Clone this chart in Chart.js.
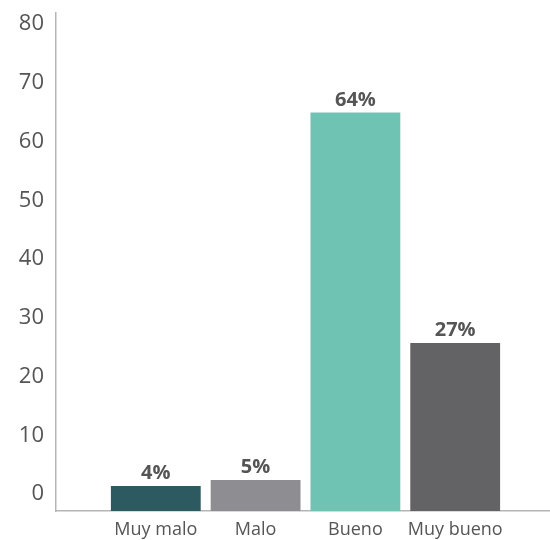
<!DOCTYPE html>
<html>
<head>
<meta charset="utf-8">
<script src="https://cdn.jsdelivr.net/npm/chart.js@4/dist/chart.umd.min.js"></script>
<style>
  html, body { margin: 0; padding: 0; background: #ffffff; }
  #wrap { width: 550px; height: 540px; }
</style>
</head>
<body>
<div id="wrap"><canvas id="ratingChart" width="550" height="540"></canvas></div>
<script>
const categories = ["Muy malo", "Malo", "Bueno", "Muy bueno"];
const values = [4, 5, 64, 27];
const valueLabels = ["4%", "5%", "64%", "27%"];
const barColors = ["#2c5a60", "#8e8e92", "#6fc3b2", "#636365"];
const yTicks = [0, 10, 20, 30, 40, 50, 60, 70, 80];

const textColor = "#555555";
const axisColor = "#b5b5b5";
const fontFamily = "'Open Sans', sans-serif";

/* percent labels above each bar */
const barLabels = {
  id: "barLabels",
  afterDatasetsDraw(chart) {
    const ctx = chart.ctx;
    const meta = chart.getDatasetMeta(0);
    ctx.save();
    ctx.fillStyle = textColor;
    ctx.font = "bold 20px " + fontFamily;
    ctx.textAlign = "center";
    ctx.textBaseline = "alphabetic";
    meta.data.forEach((bar, i) => {
      ctx.fillText(valueLabels[i], bar.x, bar.y - 7);
    });
    ctx.restore();
  }
};

new Chart(document.getElementById("ratingChart"), {
  type: "bar",
  data: {
    datasets: [
      {
        data: values.map((v, i) => ({ x: i + 1, y: v })),
        backgroundColor: barColors,
        borderWidth: 0,
        barPercentage: 0.9,
        categoryPercentage: 1.0,
        yAxisID: "y"
      }
    ]
  },
  options: {
    responsive: false,
    animation: false,
    layout: { padding: { top: 13, right: 0, bottom: 0, left: 0 } },
    plugins: {
      legend: { display: false },
      tooltip: { enabled: false }
    },
    scales: {
      x: {
        type: "linear",
        min: 0,
        max: 4.95,
        offset: false,
        grid: { display: false, drawTicks: false, offset: false },
        border: { color: axisColor, width: 1.5 },
        afterBuildTicks: (scale) => {
          scale.ticks = categories.map((_, i) => ({ value: i + 1 }));
        },
        afterFit: (scale) => {
          scale.height = 29;
          scale.paddingLeft = 0;
          scale.paddingRight = 0;
        },
        ticks: {
          color: textColor,
          font: { family: fontFamily, size: 18 },
          padding: 8,
          autoSkip: false,
          maxRotation: 0,
          callback: (v) => categories[v - 1] || ""
        }
      },
      y: {
        display: false,
        min: 0,
        max: 80
      },
      yl: {
        position: "left",
        min: -2.894,
        max: 81.87,
        grid: { display: false, drawTicks: false },
        border: { color: axisColor, width: 1.5 },
        afterBuildTicks: (scale) => {
          scale.ticks = yTicks.map((v) => ({ value: v }));
        },
        afterFit: (scale) => {
          scale.width = 56;
          scale.paddingTop = 0;
          scale.paddingBottom = 0;
        },
        ticks: {
          color: textColor,
          font: { family: fontFamily, size: 22 },
          padding: 12
        }
      }
    }
  },
  plugins: [barLabels]
});
</script>
</body>
</html>
